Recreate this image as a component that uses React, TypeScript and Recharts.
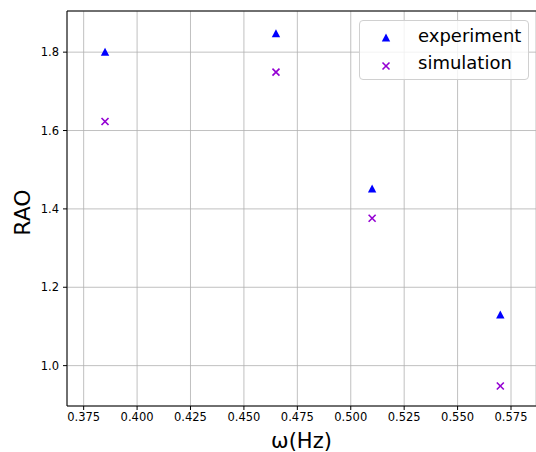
import React from 'react';
import {
  ScatterChart,
  Scatter,
  XAxis,
  YAxis,
  CartesianGrid,
  Legend,
  ReferenceLine,
} from 'recharts';

const omega = [0.385, 0.465, 0.51, 0.57];
const experiment = [1.8, 1.847, 1.451, 1.129];
const simulation = [1.623, 1.749, 1.376, 0.948];
const seriesNames = ['experiment', 'simulation'];

const xTicks = [0.375, 0.4, 0.425, 0.45, 0.475, 0.5, 0.525, 0.55, 0.575];
const yTicks = [1.0, 1.2, 1.4, 1.6, 1.8];
const xDomain: [number, number] = [0.3672, 0.5867];
const yDomain: [number, number] = [0.897, 1.905];

const expData = omega.map((x, i) => ({ x, y: experiment[i] }));
const simData = omega.map((x, i) => ({ x, y: simulation[i] }));

const FONT = '"DejaVu Sans", sans-serif';
const BLUE = '#0000ff';
const VIOLET = '#9400d3';

function Triangle(props: any) {
  const { cx, cy } = props;
  if (cx == null || cy == null) return null;
  return (
    <polygon
      points={`${cx},${cy - 4.5} ${cx - 4.2},${cy + 3.5} ${cx + 4.2},${cy + 3.5}`}
      fill={BLUE}
    />
  );
}

function Cross(props: any) {
  const { cx, cy } = props;
  if (cx == null || cy == null) return null;
  const r = 3.5;
  return (
    <g stroke={VIOLET} strokeWidth={1.6}>
      <line x1={cx - r} y1={cy - r} x2={cx + r} y2={cy + r} />
      <line x1={cx - r} y1={cy + r} x2={cx + r} y2={cy - r} />
    </g>
  );
}

function LegendBox() {
  return (
    <div
      style={{
        width: 170,
        height: 60,
        boxSizing: 'border-box',
        border: '1px solid #d0d0d0',
        borderRadius: 4,
        background: 'rgba(255,255,255,0.8)',
        fontFamily: FONT,
        fontSize: 18,
        color: '#000',
      }}
    >
      {seriesNames.map((name, i) => (
        <div key={name} style={{ display: 'flex', alignItems: 'center', height: 27, marginTop: i === 0 ? 1 : 0 }}>
          <svg width={58} height={27}>
            {i === 0 ? <Triangle cx={26} cy={16} /> : <Cross cx={26} cy={17} />}
          </svg>
          <span style={{ lineHeight: '27px' }}>{name}</span>
        </div>
      ))}
    </div>
  );
}

export default function App() {
  return (
    <div style={{ position: 'absolute', left: 0, top: 0, background: '#fff' }}>
      <ScatterChart width={536} height={452} margin={{ top: 11, right: 0, bottom: 16, left: 0 }}>
        <CartesianGrid stroke="#b0b0b0" strokeWidth={0.8} />
        <XAxis
          dataKey="x"
          type="number"
          domain={xDomain}
          allowDataOverflow
          ticks={xTicks}
          interval={0}
          height={30}
          tickSize={4}
          tickMargin={3}
          tickFormatter={(v: number) => v.toFixed(3)}
          tick={{ fill: '#000', fontSize: 11.5, fontFamily: FONT }}
          axisLine={{ stroke: '#000', strokeWidth: 1 }}
          tickLine={{ stroke: '#000' }}
          label={{
            content: (p: any) => {
              const vb = p.viewBox;
              return (
                <text x={vb.x + vb.width / 2} y={vb.y + vb.height + 12} textAnchor="middle" fontSize={21} fontFamily={FONT} fill="#000">
                  ω(Hz)
                </text>
              );
            },
          }}
        />
        <YAxis
          dataKey="y"
          type="number"
          domain={yDomain}
          allowDataOverflow
          ticks={yTicks}
          interval={0}
          width={67}
          tickSize={4}
          tickMargin={4}
          tickFormatter={(v: number) => v.toFixed(1)}
          tick={{ fill: '#000', fontSize: 11.5, fontFamily: FONT }}
          axisLine={{ stroke: '#000', strokeWidth: 1 }}
          tickLine={{ stroke: '#000' }}
          label={{
            content: (p: any) => {
              const vb = p.viewBox;
              const x = vb.x + 30;
              const y = vb.y + vb.height / 2 + 4;
              return (
                <text x={x} y={y} transform={`rotate(-90, ${x}, ${y})`} textAnchor="middle" fontSize={22} fontFamily={FONT} fill="#000">
                  RAO
                </text>
              );
            },
          }}
        />
        <ReferenceLine y={yDomain[1]} stroke="#000" strokeWidth={1} />
        <Legend
          layout="vertical"
          align="center"
          verticalAlign="middle"
          content={() => <LegendBox />}
          wrapperStyle={{ left: 359, top: 20, width: 170, height: 60 }}
        />
        <Scatter name={seriesNames[0]} data={expData} shape={<Triangle />} isAnimationActive={false} />
        <Scatter name={seriesNames[1]} data={simData} shape={<Cross />} isAnimationActive={false} />
      </ScatterChart>
    </div>
  );
}
